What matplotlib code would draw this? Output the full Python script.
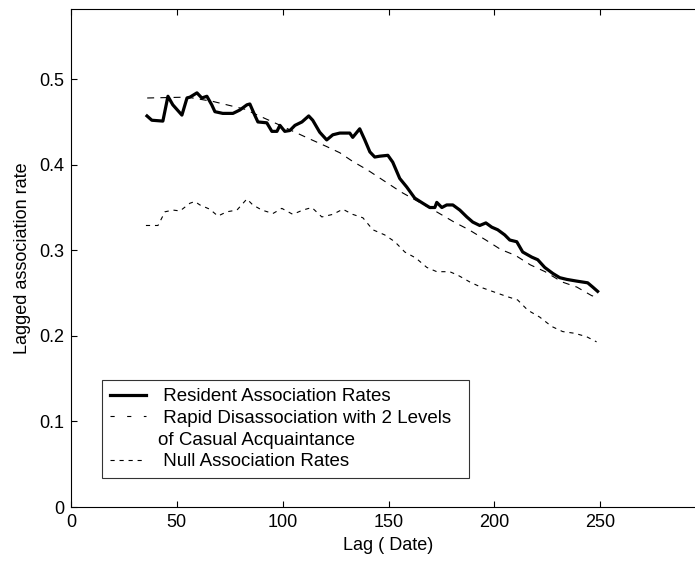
import matplotlib
matplotlib.use("Agg")
import matplotlib.pyplot as plt
from matplotlib.lines import Line2D

plt.rcParams['font.family'] = ['Liberation Sans', 'DejaVu Sans']
plt.rcParams['lines.scale_dashes'] = False

# Resident association rates (thick solid)
res_lag = [35.9, 38.2, 43.4, 45.8, 48.1, 52.4, 54.8, 56.2, 59.5, 61.8, 64.2, 66.5, 68.0,
           71.7, 76.5, 79.8, 83.1, 84.5, 86.8, 88.3, 92.5, 94.9, 97.3, 98.7, 101.0, 103.4,
           105.8, 109.1, 112.3, 114.2, 117.5, 120.8, 123.7, 127.0, 131.7, 133.1, 136.4,
           138.8, 141.2, 143.5, 145.9, 149.7, 152.0, 155.3, 158.6, 162.4, 166.2, 169.5,
           171.9, 172.8, 175.2, 177.5, 180.4, 183.7, 187.0, 189.8, 193.1, 196.0, 198.8,
           201.6, 204.9, 207.3, 210.6, 213.4, 217.7, 220.5, 223.8, 227.6, 230.9, 234.2,
           238.9, 244.1, 246.5, 248.8]
res_val = [0.457, 0.452, 0.451, 0.480, 0.470, 0.458, 0.478, 0.479, 0.484, 0.478, 0.480,
           0.470, 0.462, 0.460, 0.460, 0.464, 0.470, 0.471, 0.458, 0.450, 0.449, 0.439,
           0.439, 0.446, 0.439, 0.440, 0.446, 0.450, 0.457, 0.452, 0.438, 0.429, 0.435,
           0.437, 0.437, 0.432, 0.442, 0.429, 0.415, 0.409, 0.410, 0.411, 0.403, 0.384,
           0.374, 0.361, 0.355, 0.350, 0.350, 0.356, 0.350, 0.353, 0.353, 0.347, 0.339,
           0.333, 0.329, 0.332, 0.327, 0.324, 0.318, 0.312, 0.310, 0.298, 0.292, 0.289,
           0.280, 0.273, 0.268, 0.266, 0.264, 0.262, 0.257, 0.252]

# Rapid disassociation model (dashed)
rap_lag = [36, 55, 67, 77, 82, 89, 98, 112, 121, 127, 133, 140, 148, 156, 172, 181, 188,
           196, 203, 210, 217, 224, 232, 239, 246, 249]
rap_val = [0.478, 0.479, 0.474, 0.468, 0.465, 0.457, 0.447, 0.431, 0.421, 0.414, 0.404,
           0.394, 0.381, 0.368, 0.346, 0.333, 0.324, 0.312, 0.301, 0.294, 0.283, 0.275,
           0.263, 0.257, 0.247, 0.245]

# Null association rates (dashed)
null_lag = [35.4, 41.1, 44.4, 48.2, 51.5, 56.2, 58.5, 60.9, 65.6, 69.4, 73.6, 78.4, 83.1,
            85.9, 90.2, 95.4, 99.6, 104.8, 109.5, 113.8, 118.5, 123.7, 128.4, 133.1,
            137.9, 142.6, 148.2, 153.0, 157.7, 162.9, 168.1, 172.8, 178.9, 182.7, 188.4,
            194.5, 200.2, 205.9, 211.0, 215.8, 221.4, 227.1, 232.3, 238.0, 243.6, 248.3]
null_val = [0.329, 0.329, 0.345, 0.347, 0.346, 0.355, 0.357, 0.353, 0.348, 0.340, 0.345,
            0.347, 0.360, 0.353, 0.347, 0.343, 0.349, 0.342, 0.347, 0.350, 0.339, 0.342,
            0.348, 0.342, 0.338, 0.324, 0.318, 0.310, 0.298, 0.291, 0.280, 0.275, 0.275,
            0.271, 0.263, 0.256, 0.251, 0.246, 0.242, 0.230, 0.222, 0.211, 0.205, 0.203,
            0.199, 0.193]

xticks = [0, 50, 100, 150, 200, 250]
yticks = [0, 0.1, 0.2, 0.3, 0.4, 0.5]
ytick_labels = ['0', '0.1', '0.2', '0.3', '0.4', '0.5']

W, H = 695, 561
fig = plt.figure(figsize=(W / 100, H / 100), dpi=100)
left, right, top, bottom = 71, 706, 9, 507
ax = fig.add_axes([left / W, (H - bottom) / H, (right - left) / W, (bottom - top) / H])

l1, = ax.plot(res_lag, res_val, color='black', lw=2.3, solid_joinstyle='round')
l2, = ax.plot(rap_lag, rap_val, color='black', lw=0.8, linestyle=(0, (5, 4.5)))
l3, = ax.plot(null_lag, null_val, color='black', lw=0.8, linestyle=(0, (3, 3.5)))

ax.set_xlim(0, 300)
ax.set_ylim(0, 0.582)
ax.set_xticks(xticks)
ax.set_yticks(yticks)
ax.set_yticklabels(ytick_labels)
ax.tick_params(direction='in', length=4.5, width=0.8, top=True, right=True,
               labelsize=13, pad=5)
for s in ax.spines.values():
    s.set_linewidth(0.8)

ax.set_xlabel('Lag ( Date)', fontsize=13, labelpad=4)
ax.set_ylabel('Lagged association rate', fontsize=13, labelpad=6)

l2h = Line2D([], [], color='black', lw=0.8, linestyle=(0, (3, 9)))
l3h = Line2D([], [], color='black', lw=0.8, linestyle=(0, (3, 3.5)))
blank = Line2D([], [], linestyle='none')
leg = ax.legend([l1, l2h, blank, l3h],
                [' Resident Association Rates', ' Rapid Disassociation with 2 Levels  ',
                 'of Casual Acquaintance', ' Null Association Rates'],
                loc='lower left',
                bbox_to_anchor=((102 - left) / (right - left), (bottom - 478) / (bottom - top)),
                borderaxespad=0, fancybox=False, frameon=True, fontsize=13.5,
                handlelength=1.95, handletextpad=0.65, labelspacing=0.25, borderpad=0.4)
leg.get_frame().set_edgecolor('black')
leg.get_frame().set_linewidth(0.8)

fig.savefig('out.png', dpi=100)
